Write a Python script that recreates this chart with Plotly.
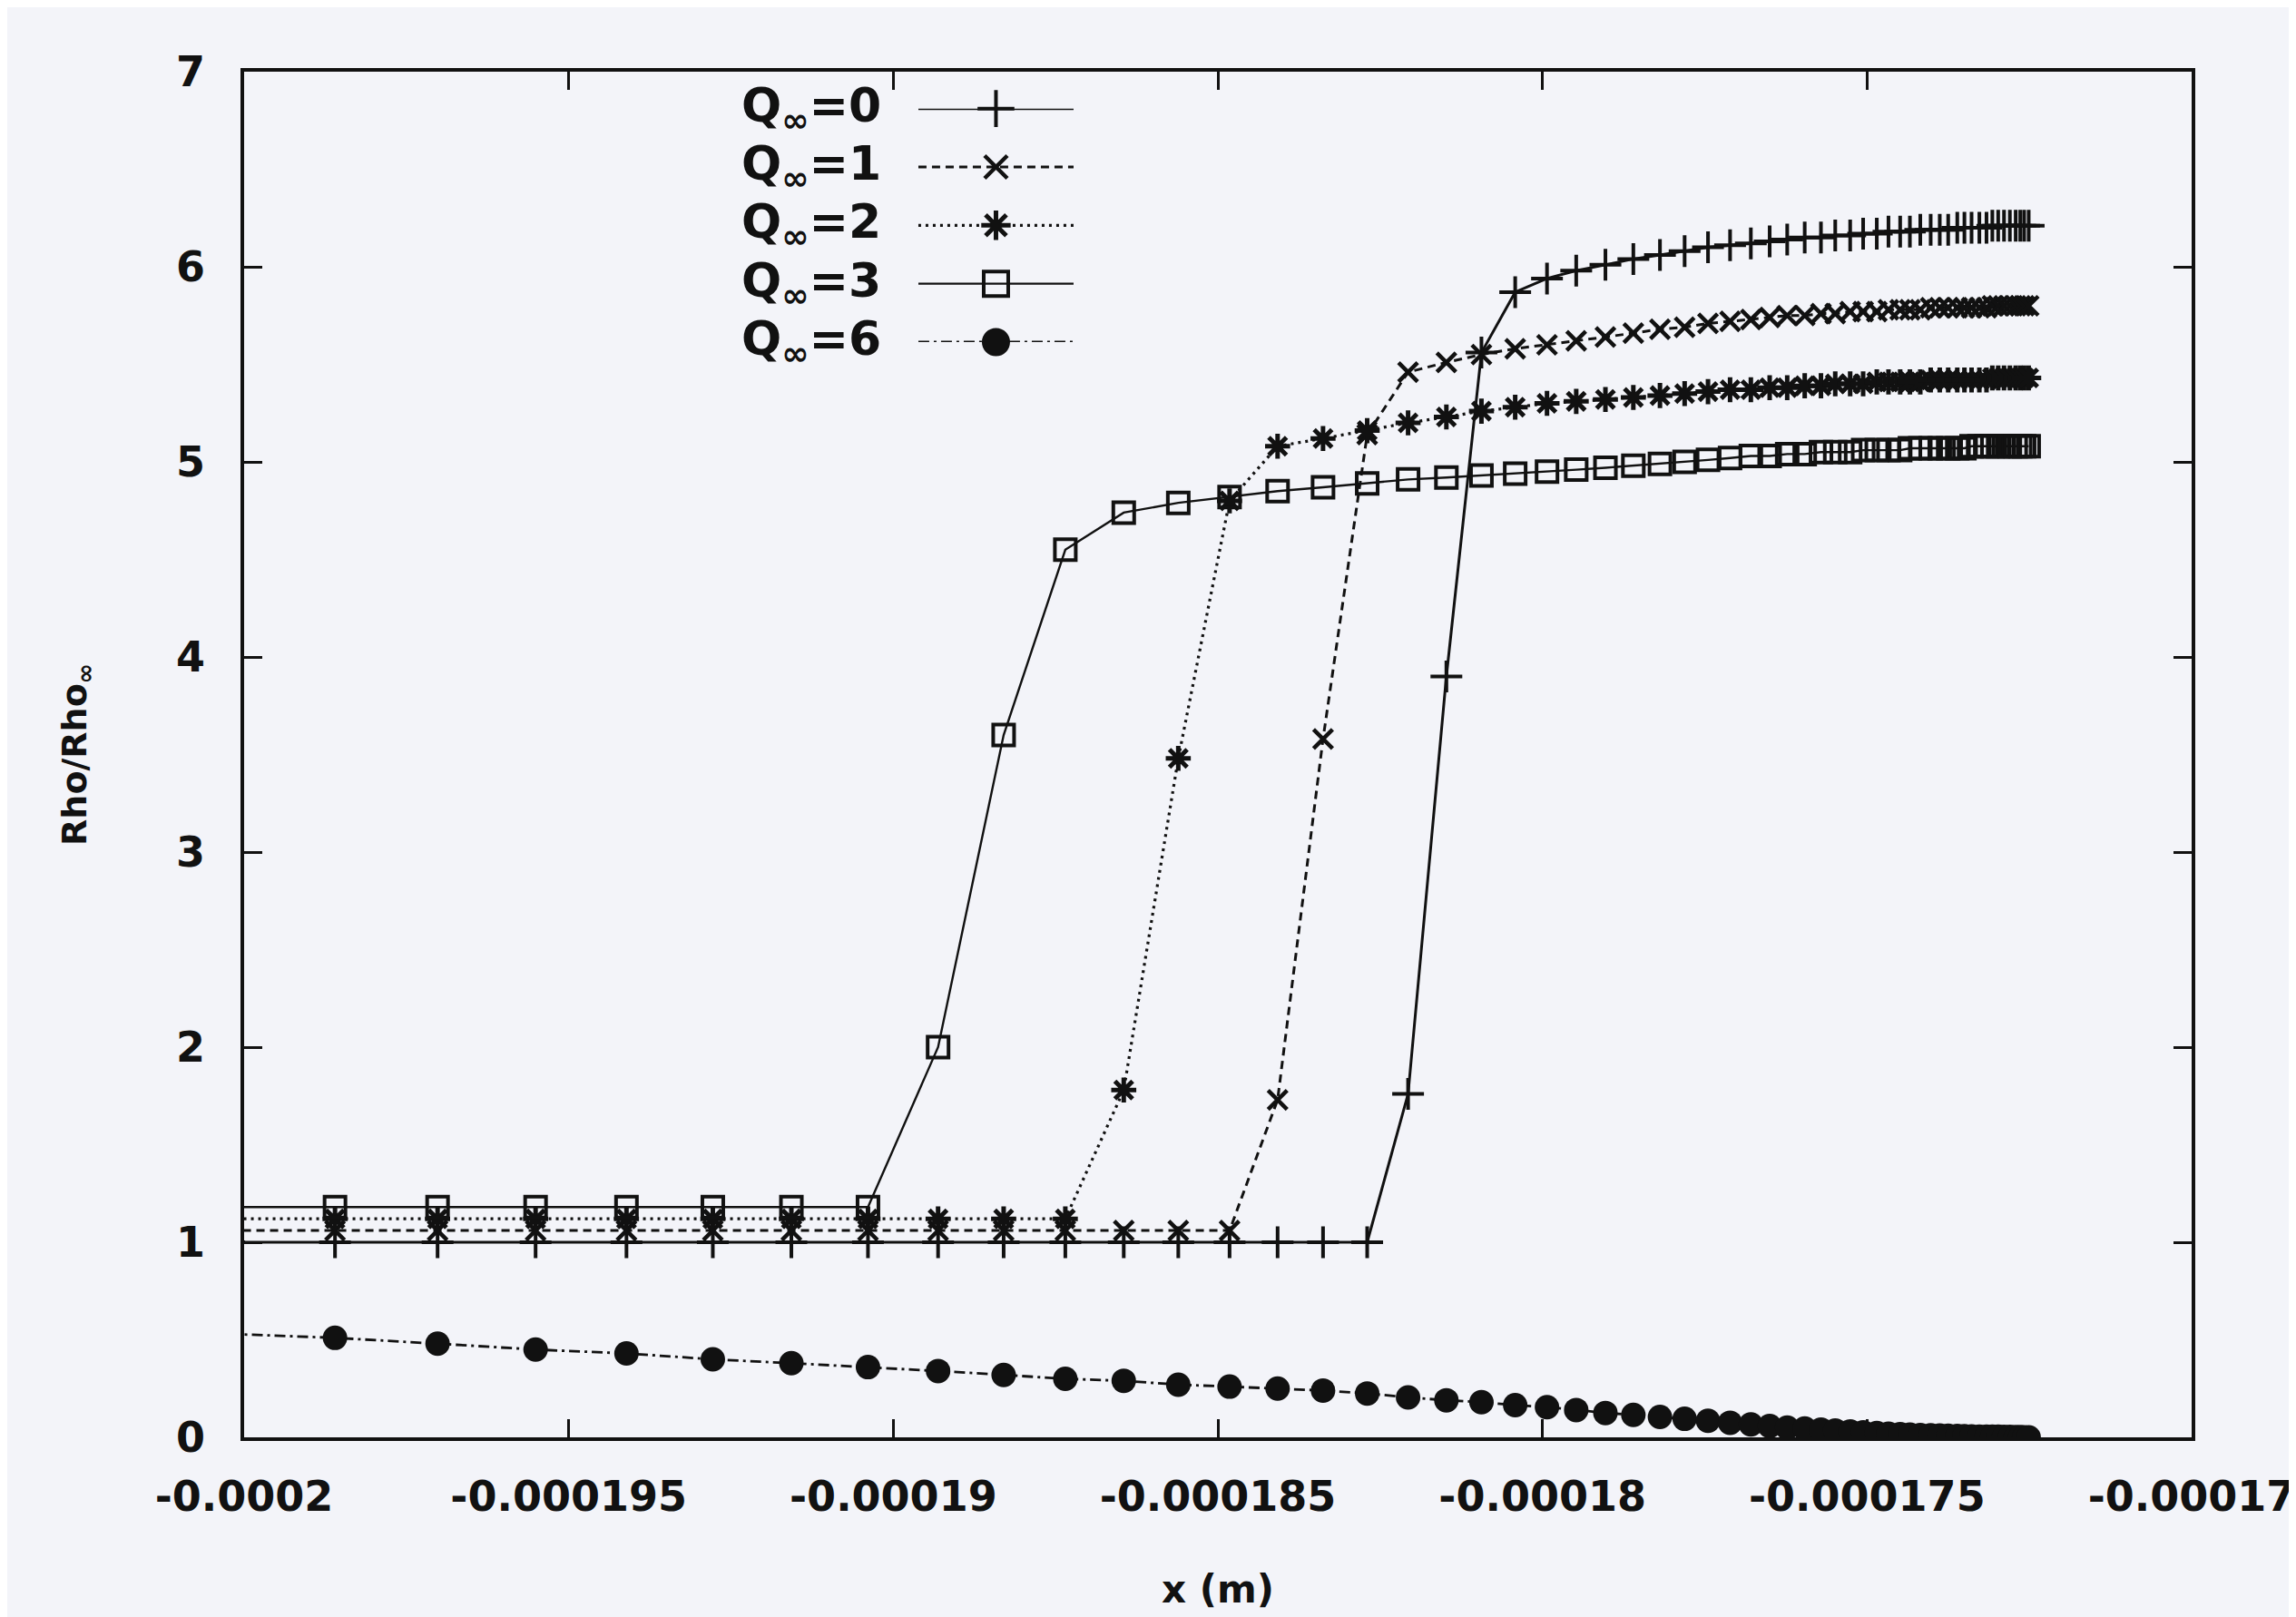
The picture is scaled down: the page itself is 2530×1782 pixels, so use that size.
import plotly.graph_objects as go

# ---------------- data ----------------
x_m = [
    -0.00020023, -0.00019860, -0.00019702, -0.00019551, -0.00019411, -0.00019278,
    -0.00019157, -0.00019039, -0.00018931, -0.00018830, -0.00018735, -0.00018645,
    -0.00018561, -0.00018482, -0.00018408, -0.00018338, -0.00018270, -0.00018207,
    -0.00018148, -0.00018094, -0.00018042, -0.00017993, -0.00017948, -0.00017903,
    -0.00017860, -0.00017819, -0.00017781, -0.00017745, -0.00017711, -0.00017679,
    -0.00017650, -0.00017623, -0.00017596, -0.00017571, -0.00017549, -0.00017526,
    -0.00017506, -0.00017485, -0.00017467, -0.00017449, -0.00017434, -0.00017418,
    -0.00017402, -0.00017388, -0.00017375, -0.00017361, -0.00017350, -0.00017339,
    -0.00017327, -0.00017316, -0.00017307, -0.00017298, -0.00017289, -0.00017280,
    -0.00017271, -0.00017264, -0.00017258, -0.00017251,
]

rho_q0 = [
    1.00, 1.00, 1.00, 1.00, 1.00, 1.00, 1.00, 1.00, 1.00, 1.00, 1.00, 1.00,
    1.00, 1.00, 1.00, 1.00, 1.00, 1.76, 3.90, 5.56, 5.87, 5.94, 5.98, 6.01,
    6.04, 6.06, 6.08, 6.10, 6.11, 6.12, 6.13, 6.14, 6.15, 6.15, 6.16, 6.16,
    6.17, 6.17, 6.18, 6.18, 6.18, 6.19, 6.19, 6.19, 6.19, 6.20, 6.20, 6.20,
    6.20, 6.20, 6.21, 6.21, 6.21, 6.21, 6.21, 6.21, 6.21, 6.21,
]

rho_q1 = [
    1.06, 1.06, 1.06, 1.06, 1.06, 1.06, 1.06, 1.06, 1.06, 1.06, 1.06, 1.06,
    1.06, 1.06, 1.73, 3.58, 5.14, 5.46, 5.51, 5.55, 5.58, 5.60, 5.62, 5.64,
    5.66, 5.68, 5.69, 5.71, 5.72, 5.73, 5.74, 5.75, 5.75, 5.76, 5.76, 5.77,
    5.77, 5.77, 5.78, 5.78, 5.78, 5.78, 5.79, 5.79, 5.79, 5.79, 5.79, 5.79,
    5.79, 5.79, 5.80, 5.80, 5.80, 5.80, 5.80, 5.80, 5.80, 5.80,
]

rho_q2 = [
    1.12, 1.12, 1.12, 1.12, 1.12, 1.12, 1.12, 1.12, 1.12, 1.12, 1.12, 1.78,
    3.48, 4.80, 5.08, 5.12, 5.16, 5.20, 5.23, 5.26, 5.28, 5.30, 5.31, 5.32,
    5.33, 5.34, 5.35, 5.36, 5.37, 5.37, 5.38, 5.38, 5.39, 5.39, 5.40, 5.40,
    5.40, 5.41, 5.41, 5.41, 5.41, 5.41, 5.42, 5.42, 5.42, 5.42, 5.42, 5.42,
    5.42, 5.42, 5.43, 5.43, 5.43, 5.43, 5.43, 5.43, 5.43, 5.43,
]

rho_q3 = [
    1.18, 1.18, 1.18, 1.18, 1.18, 1.18, 1.18, 1.18, 2.00, 3.60, 4.55, 4.74,
    4.79, 4.82, 4.85, 4.87, 4.89, 4.91, 4.92, 4.93, 4.94, 4.95, 4.96, 4.97,
    4.98, 4.99, 5.00, 5.01, 5.02, 5.03, 5.03, 5.04, 5.04, 5.05, 5.05, 5.05,
    5.06, 5.06, 5.06, 5.06, 5.07, 5.07, 5.07, 5.07, 5.07, 5.07, 5.07, 5.08,
    5.08, 5.08, 5.08, 5.08, 5.08, 5.08, 5.08, 5.08, 5.08, 5.08,
]

rho_q6 = [
    0.53, 0.51, 0.48, 0.45, 0.43, 0.40, 0.38, 0.36, 0.34, 0.32, 0.30, 0.29,
    0.27, 0.26, 0.25, 0.24, 0.225, 0.205, 0.19, 0.18, 0.165, 0.155, 0.14, 0.125,
    0.115, 0.105, 0.095, 0.085, 0.075, 0.066, 0.058, 0.05, 0.045, 0.04, 0.035, 0.03,
    0.026, 0.022, 0.019, 0.016, 0.014, 0.012, 0.010, 0.009, 0.008, 0.007, 0.006, 0.005,
    0.004, 0.004, 0.003, 0.003, 0.002, 0.002, 0.001, 0.001, 0.0, 0.0,
]

series_names = ["Q<sub>∞</sub>=0", "Q<sub>∞</sub>=1", "Q<sub>∞</sub>=2",
                "Q<sub>∞</sub>=3", "Q<sub>∞</sub>=6"]
series_values = [rho_q0, rho_q1, rho_q2, rho_q3, rho_q6]

x_tick_vals = [-0.0002, -0.000195, -0.00019, -0.000185, -0.00018, -0.000175, -0.00017]
x_tick_text = ["-0.0002", "-0.000195", "-0.00019", "-0.000185", "-0.00018", "-0.000175", "-0.00017"]
y_tick_vals = [0, 1, 2, 3, 4, 5, 6, 7]
y_tick_text = ["0", "1", "2", "3", "4", "5", "6", "7"]

x_title = "x (m)"
y_title = "Rho/Rho<sub>∞</sub>"

# ---------------- styles ----------------
INK = "#111111"
BG = "#f3f4f9"
FONT = "DejaVu Sans"

styles = [
    dict(dash="solid", width=3.0, symbol="cross-thin-open", size=25, mlw=4.0),
    dict(dash="9px,6px", width=3.0, symbol="x-thin-open", size=21, mlw=4.5),
    dict(dash="3px,5px", width=3.2, symbol="asterisk-open", size=23, mlw=5.0),
    dict(dash="solid", width=2.4, symbol="square-open", size=23, mlw=4.0),
    dict(dash="12px,5px,3px,5px", width=2.8, symbol="circle", size=27, mlw=0),
]

fig = go.Figure()

for name, yv, st in zip(series_names, series_values, styles):
    fig.add_trace(go.Scatter(
        x=x_m, y=yv, mode="lines+markers", name=name, showlegend=False,
        line=dict(color=INK, width=st["width"], dash=st["dash"]),
        marker=dict(symbol=st["symbol"], size=st["size"], color=INK,
                    line=dict(color=INK, width=st["mlw"])),
        cliponaxis=True,
    ))

# ---------------- gnuplot-style key (text left of sample) ----------------
for i, (name, st) in enumerate(zip(series_names, styles)):
    fig.add_trace(go.Scatter(
        x=[0, 1], y=[i, i], xaxis="x2", yaxis="y2",
        mode="lines", showlegend=False, hoverinfo="skip",
        line=dict(color=INK, width=st["width"], dash=st["dash"]),
    ))
    fig.add_trace(go.Scatter(
        x=[0.5], y=[i], xaxis="x2", yaxis="y2",
        mode="markers", showlegend=False, hoverinfo="skip",
        marker=dict(symbol=st["symbol"], size=st["size"] + 4, color=INK,
                    line=dict(color=INK, width=st["mlw"])),
        cliponaxis=False,
    ))
    fig.add_annotation(
        x=0.328, xref="paper", y=i, yref="y2", xanchor="right", yanchor="middle",
        text="<b>" + name + "</b>", showarrow=False,
        font=dict(family=FONT, size=52, color=INK),
    )

# x-axis title placed in the bottom margin
fig.add_annotation(
    x=0.5, xref="paper", y=-0.111, yref="paper", xanchor="center", yanchor="middle",
    text="<b>" + x_title + "</b>", showarrow=False,
    font=dict(family=FONT, size=42, color=INK),
)

axis_common = dict(
    showline=True, linecolor=INK, linewidth=3.5, mirror="ticks",
    ticks="inside", ticklen=20, tickwidth=3, tickcolor=INK,
    showgrid=False, zeroline=False, automargin=False,
    tickfont=dict(family=FONT, size=46, color=INK, weight="bold"),
)

fig.update_layout(
    width=2530, height=1782,
    margin=dict(l=261, r=123, t=71, b=206),
    paper_bgcolor=BG, plot_bgcolor=BG,
    xaxis=dict(
        range=[-0.0002, -0.00017], tickvals=x_tick_vals, ticktext=x_tick_text,
        ticklabelstandoff=22,
        **axis_common,
    ),
    yaxis=dict(
        range=[0, 7], tickvals=y_tick_vals, ticktext=y_tick_text,
        ticklabelstandoff=30,
        title=dict(text="<b>" + y_title + "</b>", font=dict(family=FONT, size=38, color=INK), standoff=88),
        **axis_common,
    ),
    xaxis2=dict(domain=[0.3462, 0.4259], range=[0, 1], visible=False, anchor="y2"),
    yaxis2=dict(domain=[0.802, 0.973], range=[4, 0], visible=False, anchor="x2"),
    font=dict(family=FONT, color=INK),
)

fig.write_html("out.html")
